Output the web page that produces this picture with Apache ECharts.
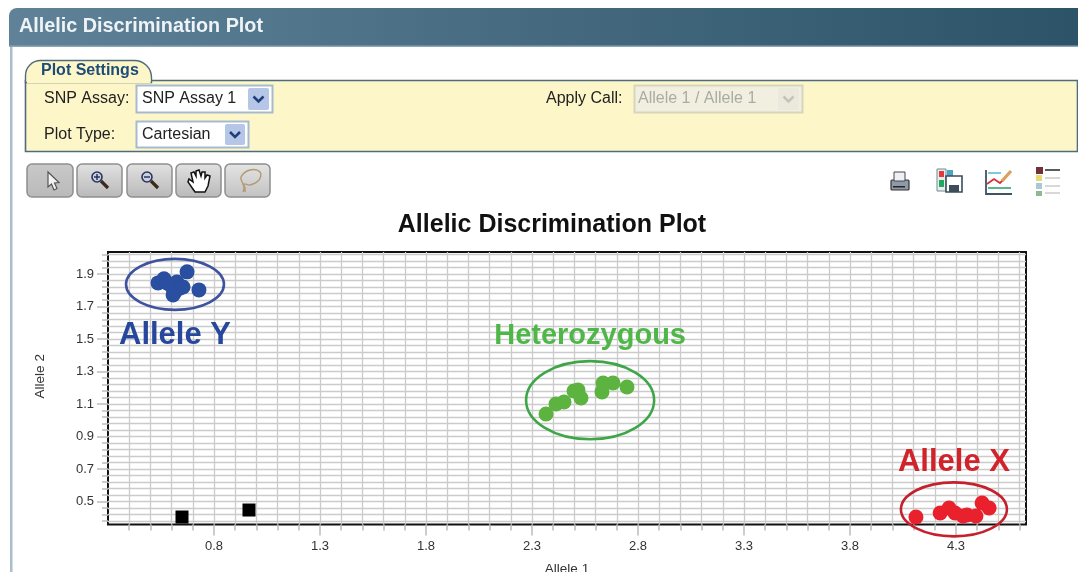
<!DOCTYPE html>
<html>
<head>
<meta charset="utf-8">
<style>html,body{margin:0;padding:0;background:#fff;overflow:hidden}#c{width:1078px;height:572px}</style>
<script src="https://cdn.jsdelivr.net/npm/echarts@6/dist/echarts.min.js"></script>
</head>
<body>
<div id="c"></div>
<script>
const xTickLabels = [0.8, 1.3, 1.8, 2.3, 2.8, 3.3, 3.8, 4.3];
const yTickLabels = [0.5, 0.7, 0.9, 1.1, 1.3, 1.5, 1.7, 1.9];
const xGrid = [0.4,0.5,0.6,0.7,0.8,0.9,1.0,1.1,1.2,1.3,1.4,1.5,1.6,1.7,1.8,1.9,2.0,2.1,2.2,2.3,2.4,2.5,2.6,2.7,2.8,2.9,3.0,3.1,3.2,3.3,3.4,3.5,3.6,3.7,3.8,3.9,4.0,4.1,4.2,4.3,4.4,4.5,4.6];
const yGrid = [0.38,0.42,0.46,0.50,0.54,0.58,0.62,0.66,0.70,0.74,0.78,0.82,0.86,0.90,0.94,0.98,1.02,1.06,1.10,1.14,1.18,1.22,1.26,1.30,1.34,1.38,1.42,1.46,1.50,1.54,1.58,1.62,1.66,1.70,1.74,1.78,1.82,1.86,1.90,1.94,1.98,2.02];

const alleleY = [[0.673,1.913],[0.729,1.802],[0.536,1.845],[0.564,1.870],[0.607,1.771],[0.625,1.851],[0.640,1.814],[0.602,1.820],[0.616,1.790],[0.654,1.820],[0.578,1.845]];
const heterozygous = [[2.366,1.039],[2.413,1.101],[2.451,1.113],[2.498,1.181],[2.517,1.187],[2.531,1.138],[2.630,1.175],[2.635,1.230],[2.682,1.230],[2.748,1.205]];
const alleleX = [[4.111,0.406],[4.225,0.431],[4.267,0.461],[4.295,0.431],[4.333,0.412],[4.352,0.418],[4.394,0.412],[4.423,0.492],[4.456,0.461]];
const noCall = [[0.649,0.406],[0.965,0.449]];

const groupNames = ['Allele Y', 'Heterozygous', 'Allele X'];
const groupCenters = [[0.616,1.836],[2.574,1.124],[4.290,0.453]];
const groupRadii = [[0.231,0.157],[0.302,0.240],[0.250,0.166]];
const groupLabelAt = [[0.616,1.525],[2.574,1.519],[4.290,0.744]];
const groupFontSize = [31,29,31];
const groupStroke = ['#3f52a0','#3fa648','#c6202e'];
const groupText = ['#27479d','#4fb748','#d2232a'];

const ARIAL = '"Liberation Sans", Arial, sans-serif';
const G = echarts.graphic;
const rect = (x,y,w,h,fill,stroke,r,lw) => ({type:'rect',shape:{x,y,width:w,height:h,r:r||0},style:{fill:fill||'none',stroke:stroke||'none',lineWidth:lw||1}});
const txt = (x,y,text,size,color,weight,align) => ({type:'text',x,y,style:{text,fill:color||'#222',font:(weight||'normal')+' '+size+'px '+ARIAL,textAlign:align||'left',textVerticalAlign:'middle'}});
const poly = (pts,fill,stroke,lw,smooth) => ({type:'polygon',shape:{points:pts,smooth:smooth||0},style:{fill:fill||'none',stroke:stroke||'none',lineWidth:lw||1}});
const pline = (pts,stroke,lw,smooth) => ({type:'polyline',shape:{points:pts,smooth:smooth||0},style:{fill:'none',stroke,lineWidth:lw||1}});
const circ = (cx,cy,r,fill,stroke,lw) => ({type:'circle',shape:{cx,cy,r},style:{fill:fill||'none',stroke:stroke||'none',lineWidth:lw||1}});
const vgrad = (a,b) => new G.LinearGradient(0,0,0,1,[{offset:0,color:a},{offset:1,color:b}]);

function selectBox(x,y,w,h,label,btnW,disabled){
  const bx = x+w-btnW-3;
  return [
    rect(x+.5,y+.5,w,h,disabled?'#f1efdf':'#fff',disabled?'#d8d5bf':'#a7bbcf',0,2),
    txt(x+(disabled?4:6),y+h/2+.5,label,16,disabled?'#ababa6':'#222'),
    rect(bx,y+3,btnW,h-5,disabled?'#ebe9dc':'#b5c6e6',null,2),
    pline([[bx+btnW/2-5,y+h/2-2],[bx+btnW/2,y+h/2+3],[bx+btnW/2+5,y+h/2-2]],disabled?'#c4c4bb':'#1f3f7c',2.5)
  ];
}
function toolButton(x,w,fill){
  return rect(x,164,w,33,fill||vgrad('#e2e2e2','#b8b8b8'),'#8f8f8f',5,1.5);
}
function magnifier(cx,minus){
  const c=[circ(cx-3,177,5,'#c9cfe3','#2c3358',1.6),pline([[cx-6,177],[cx,177]],'#222a55',1.4),pline([[cx+1,181],[cx+8,188]],'#3a2a1c',3.2)];
  if(!minus) c.push(pline([[cx-3,174],[cx-3,180]],'#222a55',1.4));
  return c;
}

const chrome = [
  rect(10,46,2.5,526,'#a9bdcb'),
  {type:'rect',shape:{x:9,y:8,width:1069,height:38,r:[8,0,0,0]},style:{fill:new G.LinearGradient(0,0,1,0,[{offset:0,color:'#5f8298'},{offset:.5,color:'#456a80'},{offset:1,color:'#2c5368'}])}},
  rect(9,45.5,1069,1.5,'#8ea6b4'),
  txt(19,26.5,'Allelic Discrimination Plot',19.8,'#eef3f6','bold'),

  rect(25.5,80.5,1052,71,'#fdf6c9','#4f6c7d',0,1.6),
  rect(25.5,60.5,126,22,'#fdf6c9','#4f6c7d',[15,17,0,0],1.4),
  rect(27,79,123.5,4,'#fdf6c9'),
  txt(41,71,'Plot Settings',16,'#1e4c78','bold'),
  txt(44,98.5,'SNP Assay:',16,'#222'),
  txt(44,134.5,'Plot Type:',16,'#222'),
  txt(546,98.5,'Apply Call:',16,'#222'),
  ...selectBox(136,85,136,27,'SNP Assay 1',21),
  ...selectBox(136,121,112,26,'Cartesian',20),
  ...selectBox(634,85,168,27,'Allele 1 / Allele 1',21,true),

  toolButton(27,46,vgrad('#c9c9c9','#b9b9b9')),
  toolButton(77,45),toolButton(127,45),toolButton(176,45),toolButton(225,45,vgrad('#e4e4e4','#c2c2c2')),
  poly([[48,172],[48,187],[51.5,184],[54,190],[57,188.5],[54.5,183],[59,182.5]],'#f4f4f4','#555',1.2),
  ...magnifier(100),...magnifier(150,true),
  poly([[195,192],[188,182],[189,179],[193,182],[191,173],[194,172],[196,176],[196,171],[199,170],[201,176],[202,172],[205,172],[205,178],[207,175],[210,176],[208,186],[205,192]],'#fff','#111',1.5),
  pline([[243,192],[244,188],[243,184],[241,177],[250,170],[260,172],[259,180],[250,185],[244,184],[245,188],[245,192]],'#b29a72',1.4,0.4),

  rect(891,180,18,10,'#8f9aa4','#333',1,1.2),rect(894,172,11,9,'#eef0f2','#445',0,1),rect(893,186,12,1.5,'#223'),
  rect(937,169,9,22,'#e8eef0','#6f8a96',0,1),rect(939,171,5,6,'#e43a3a'),rect(939,180,5,7,'#20a860'),poly([[947,170],[953,170],[953,176],[947,176]],'#49a5c4'),
  rect(946,176,16,16,'#fff','#3d4d5c',0,1.6),rect(949,185,10,7,'#3d4d5c'),
  pline([[986,170],[986,194],[1012,194]],'#3e5560',1.8),pline([[988,173],[1001,173]],'#55b7cf',1.5),pline([[988,188],[1011,188]],'#2aa874',1.6),
  pline([[987,184],[994,179],[1000,183],[1005,178]],'#d6333a',1.8),pline([[1002,181],[1011,171]],'#d8a25c',3.2),
  rect(1036,167,7,7,'#71303a'),rect(1036,175,6,6,'#e6da70'),rect(1036,183,6,6,'#aac9d2'),rect(1036,191,6,5,'#8fb893'),
  pline([[1045,170],[1060,170]],'#333',1.6),pline([[1045,178],[1060,178]],'#cfcfcf',1.6),pline([[1045,186],[1060,186]],'#cfcfcf',1.6),pline([[1045,193],[1060,193]],'#cfcfcf',1.6)
];

const chart = echarts.init(document.getElementById('c'), null, {renderer:'canvas'});
const scatter = (name,data,color,symbol,size) => ({name,type:'scatter',data,symbol,symbolSize:size,itemStyle:{color,opacity:1},xAxisIndex:0,yAxisIndex:0,z:4,clip:false,silent:true});
const gridLine = {color:'#cbcbcb',width:1.3,type:'solid'};
const xRange = {min:0.3,max:4.63}, yRange = {min:0.36,max:2.035};

chart.setOption({
  animation:false,
  backgroundColor:'#fff',
  title:{text:'Allelic Discrimination Plot',left:547,top:208,textAlign:'center',textStyle:{fontFamily:ARIAL,fontSize:25,fontWeight:'bold',color:'#111'}},
  graphic:chrome,
  grid:{left:108,top:252,width:918,height:272.5,outerBoundsMode:'none',containLabel:false,show:true,borderColor:'#111',borderWidth:2,backgroundColor:'#fff'},
  xAxis:[
    {type:'value',...xRange,position:'bottom',name:'Allele 1',nameLocation:'middle',nameGap:38,
     nameTextStyle:{fontFamily:ARIAL,fontSize:13.5,color:'#333'},
     axisLine:{show:false},splitLine:{show:false},
     axisTick:{show:true,length:11,customValues:xTickLabels,lineStyle:{color:'#bdbdbd',width:1.5}},
     axisLabel:{show:true,margin:15,customValues:xTickLabels,fontFamily:ARIAL,fontSize:13,color:'#333'}},
    {type:'value',...xRange,position:'bottom',axisLine:{show:false},axisLabel:{show:false},
     axisTick:{show:true,length:6,customValues:xGrid,lineStyle:{color:'#bdbdbd',width:1.5}},
     splitLine:{show:true,customValues:xGrid,lineStyle:gridLine}}
  ],
  yAxis:[
    {type:'value',...yRange,position:'left',name:'Allele 2',nameLocation:'middle',nameGap:61,
     nameTextStyle:{fontFamily:ARIAL,fontSize:13.5,color:'#333',padding:[0,0,0,24]},
     axisLine:{show:false},splitLine:{show:false},
     axisTick:{show:true,length:11,customValues:yTickLabels,lineStyle:{color:'#bdbdbd',width:1.5}},
     axisLabel:{show:true,margin:14,customValues:yTickLabels,fontFamily:ARIAL,fontSize:13,color:'#333'}},
    {type:'value',...yRange,position:'left',axisLine:{show:false},axisLabel:{show:false},
     axisTick:{show:true,length:6,customValues:yGrid,lineStyle:{color:'#bdbdbd',width:1.5}},
     splitLine:{show:true,customValues:yGrid,lineStyle:gridLine}}
  ],
  series:[
    scatter('Allele Y',alleleY,'#2a4ea0','circle',15),
    scatter('Heterozygous',heterozygous,'#5cb340','circle',15),
    scatter('Allele X',alleleX,'#e9212c','circle',15),
    scatter('No Call',noCall,'#000','rect',13),
    {type:'custom',name:'Groups',coordinateSystem:'cartesian2d',xAxisIndex:0,yAxisIndex:0,clip:false,silent:true,z:5,
     data:groupNames.map((n,i)=>[groupCenters[i][0],groupCenters[i][1],i]),
     renderItem:(params,api)=>{
       const i=api.value(2), c=api.coord([api.value(0),api.value(1)]), s=api.size(groupRadii[i]);
       const l=api.coord(groupLabelAt[i]);
       return {type:'group',children:[
         {type:'ellipse',shape:{cx:c[0],cy:c[1],rx:s[0],ry:s[1]},style:{fill:'none',stroke:groupStroke[i],lineWidth:2.6}},
         {type:'text',style:{text:groupNames[i],x:l[0],y:l[1],align:'center',verticalAlign:'middle',fill:groupText[i],font:'bold '+groupFontSize[i]+'px '+ARIAL}}
       ]};
     }}
  ]
});
</script>
</body>
</html>
